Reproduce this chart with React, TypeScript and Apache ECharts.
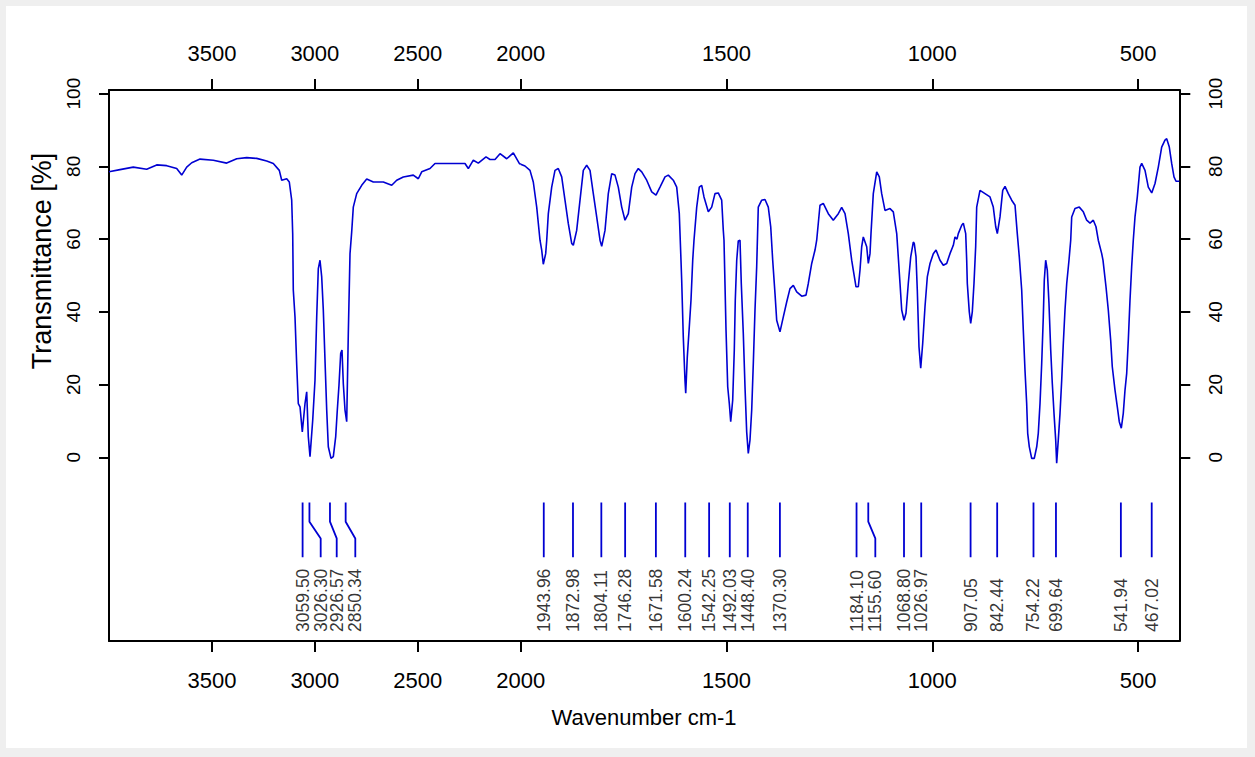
import React, { useEffect, useRef } from "react";
import * as echarts from "echarts";

// Spectrum above 2000 cm-1 : [wavenumber, transmittance %]
const spectrumHigh: [number, number][] = [
  [4000, 78.5], [3946.6, 79.1], [3882, 79.8], [3816.9, 79.2], [3768.3, 80.4], [3719.7, 80.2],
  [3671.1, 79.4], [3646.8, 77.6], [3622.5, 79.8], [3598.2, 81], [3557.9, 82], [3493.3, 81.7],
  [3428.2, 80.9], [3379.6, 82.1], [3331, 82.4], [3282.5, 82.2], [3233.9, 81.5], [3201.8, 80.8],
  [3172.7, 78.9], [3161, 76.2], [3136.7, 76.6], [3124.1, 75.7], [3112.5, 70.7], [3107.6, 61.5],
  [3104.7, 46], [3096.4, 38.6], [3088.1, 25.4], [3080.4, 14.8], [3072.1, 13.9], [3061, 7.0],
  [3047.8, 14.8], [3039.6, 18], [3031.8, 5.7], [3023.5, 0.2], [3010.4, 10.2], [2999.3, 21.2],
  [2991, 38.6], [2983.2, 51.9], [2975, 54.2], [2966.7, 49.6], [2958.9, 40.5], [2950.7, 26.7],
  [2942.4, 13], [2934.6, 2.9], [2921.5, -0.3], [2910.3, 0.2], [2898.7, 5.7], [2890.9, 13],
  [2882.7, 19.9], [2874.4, 28.6], [2868.1, 29.5], [2861.8, 20.3], [2853.5, 13], [2845.3, 9.8],
  [2837.5, 34], [2829.2, 56], [2821, 62], [2813.2, 68.8], [2796.7, 72.5], [2772.4, 74.8],
  [2748.1, 76.5], [2716, 75.7], [2667.5, 75.7], [2626.6, 74.8], [2602.4, 76.2], [2570.3, 77.1],
  [2521.7, 77.6], [2497.4, 76.6], [2480.9, 78.5], [2440.6, 79.4], [2416.3, 80.8], [2343.4, 80.8],
  [2270.6, 80.8], [2254.5, 79.4], [2230.2, 81.7], [2206, 80.9], [2168.5, 82.6], [2149.1, 81.9],
  [2124.8, 81.9], [2100.5, 83.5], [2068, 82.1], [2035.9, 83.7], [2006.8, 80.8], [2000, 80.6],
];

// Spectrum below 2000 cm-1 : [wavenumber, transmittance %]
const spectrumLow: [number, number][] = [
  [2000, 80.6], [1989.6, 80.1], [1977.4, 78.9], [1969.4, 75.7], [1961.1, 68.8], [1953.1, 59.7],
  [1949, 57], [1945.1, 53.1], [1939.3, 56], [1936.8, 59.7], [1932.9, 67], [1924.7, 74.3],
  [1916.7, 78.9], [1908.7, 79.4], [1900.4, 77.1], [1892.4, 70.7], [1884.4, 64.3], [1876.1, 58.8],
  [1872.2, 58.3], [1864, 62.4], [1855.9, 70.7], [1847.9, 78.9], [1839.7, 80.3], [1831.6, 78.9],
  [1823.6, 72.5], [1815.4, 66.1], [1807.3, 59.7], [1803.2, 58], [1795.2, 62.4], [1787.2, 72.5],
  [1778.9, 78], [1770.9, 77.6], [1762.9, 74.3], [1754.6, 68.8], [1746.6, 65.2], [1738.6, 67],
  [1730.3, 74.3], [1722.3, 78], [1714.3, 79.4], [1706, 78.5], [1693.9, 76.2], [1681.7, 73],
  [1671.3, 72.1], [1661.6, 74.3], [1649.4, 77.1], [1641.4, 77.6], [1629.3, 76.2], [1621, 74.3],
  [1614.7, 67], [1610.6, 54.2], [1608.9, 48.7], [1605, 33.1], [1600.9, 21.2], [1599.1, 17.6],
  [1595.3, 27.6], [1590.4, 35.9], [1586.3, 43.2], [1582.1, 54.2], [1579, 59.7], [1572.4, 68.8],
  [1566.1, 74.3], [1560.3, 74.8], [1554.7, 71.6], [1544.2, 67.5], [1536, 68.8], [1528, 72.5],
  [1520, 72.7], [1511.7, 70.7], [1507.8, 62.4], [1506.1, 59.7], [1501.2, 35], [1497.1, 19.4],
  [1493.2, 14.8], [1489.8, 9.8], [1485, 15.7], [1481.1, 29.5], [1478.7, 43.2], [1475.2, 54.2],
  [1471.4, 59.5], [1467.2, 59.7], [1464.1, 47.8], [1459.2, 34], [1455.1, 19.4], [1451, 7],
  [1447.1, 1.1], [1443, 4.7], [1438.8, 13], [1434.9, 25.8], [1430.8, 40.5], [1426.7, 52.4],
  [1422.8, 68.8], [1414.5, 70.7], [1406.5, 70.9], [1398.5, 68.8], [1392.6, 63.4], [1387.8, 54.2],
  [1382.2, 45], [1378.1, 37.7], [1370.1, 34.5], [1362, 38.6], [1353.8, 42.7], [1345.8, 46.4],
  [1337.7, 47.3], [1329.5, 45.5], [1317.3, 44.3], [1306.9, 44.6], [1301.3, 47.8], [1293, 53.3],
  [1285, 57], [1280.9, 59.7], [1276.9, 64.5], [1272.9, 69.3], [1264.9, 69.8], [1252.7, 67],
  [1240.6, 65.2], [1228.4, 67], [1220.2, 68.7], [1212.1, 67], [1204.1, 61.5], [1195.9, 54.2],
  [1192, 51.5], [1185.4, 46.9], [1179.8, 46.9], [1175.7, 51.5], [1171.6, 57.9], [1167.7, 60.6],
  [1159.4, 57.9], [1155.5, 53.3], [1151.4, 56], [1149, 61.5], [1143.4, 72.5], [1135.1, 78.5],
  [1128.8, 77.1], [1123, 72.5], [1115, 67.9], [1102.8, 68.4], [1094.8, 67.5], [1086.5, 61.5],
  [1082.7, 55.1], [1078.5, 47.8], [1074.4, 40.5], [1068.8, 37.7], [1064, 39.6], [1058.4, 47.8],
  [1052.5, 55.1], [1046.2, 59.2], [1043.8, 58.8], [1039.6, 55.1], [1036.5, 46], [1032.4, 30.4],
  [1028.2, 24.5], [1023.4, 31.3], [1017.8, 41.4], [1012.2, 49.6], [1005.6, 53.3], [997.6, 56],
  [991, 57], [981.4, 54.2], [973.3, 52.8], [965.1, 53.3], [957.1, 56], [949, 58.3],
  [944.9, 60.6], [940.1, 60], [936.9, 61.5], [928.6, 63.8], [924.7, 64.4], [918.9, 61.5],
  [916.5, 54.2], [915, 47.8], [910.2, 40], [906.8, 36.8], [902.9, 40], [898.8, 47.8],
  [894.7, 57.9], [892.2, 68.8], [884.2, 73.4], [872, 72.5], [859.9, 71.6], [851.9, 68.8],
  [846, 63.4], [842.1, 61.5], [835.6, 66.1], [829, 73.4], [823.4, 74.5], [815.4, 72.5],
  [807.2, 70.7], [799.1, 69.3], [793.6, 61.5], [788.7, 55.1], [782.9, 46], [779, 35],
  [774.9, 24], [770.8, 14.8], [768.3, 6.6], [764.4, 2.9], [758.6, -0.3], [752.3, -0.3],
  [746.4, 2.9], [742.6, 6.6], [738.4, 14.8], [734.3, 25.8], [730.4, 38.6], [728, 48.7],
  [724.6, 54.2], [720.7, 51.5], [716.6, 42.3], [712.4, 29.5], [708.5, 20.3], [704.4, 12.1],
  [700.3, 4.8], [697.9, -1.6], [694, 4.8], [689.8, 12.1], [685.7, 21.2], [681.8, 31.3],
  [677.7, 40.5], [673.5, 47.8], [668, 54.2], [663.8, 59.7], [661.4, 66.1], [653.4, 68.4],
  [643, 68.8], [633.2, 67.5], [625, 65.2], [616.9, 64.4], [608.9, 65.2], [602.4, 63.4],
  [596.8, 59.7], [588.5, 56], [585.4, 54.2], [578.1, 46.9], [572.5, 40.5], [566.7, 32.2],
  [562.8, 24.9], [556.2, 18.5], [550.6, 13.9], [545.8, 9.8], [540.9, 8], [536.1, 12.1],
  [531.9, 18.5], [527.8, 23.1], [523.9, 32.2], [519.8, 43.2], [515.7, 52.4], [511.8, 59.7],
  [507.6, 66.1], [502, 71.6], [495.5, 79.8], [491.3, 80.8], [483.3, 78.9], [475.3, 74.3],
  [467, 72.7], [459, 75.3], [451, 79.8], [442.8, 85.3], [434.8, 87.2], [430.6, 87.6],
  [424.3, 85.3], [418.5, 80.8], [412.9, 77.1], [408, 75.9], [400, 75.9],
];

// Peak picks (wavenumber) and where their labels sit (wavenumber units)
const peakWavenumbers = [
  3059.5, 3026.3, 2926.57, 2850.34, 1943.96, 1872.98, 1804.11, 1746.28, 1671.58, 1600.24,
  1542.25, 1492.03, 1448.4, 1370.3, 1184.1, 1155.6, 1068.8, 1026.97, 907.05, 842.44,
  754.22, 699.64, 541.94, 467.02,
];
const peakLabelAt = [
  3059.5, 2971.6, 2893.8, 2803.5, 1943.96, 1872.98, 1804.11, 1746.28, 1671.58, 1600.24,
  1542.25, 1492.03, 1448.4, 1370.3, 1184.1, 1138.5, 1068.8, 1026.97, 907.05, 842.44,
  754.22, 699.64, 541.94, 467.02,
];

const xTicksHigh = [3500, 3000, 2500, 2000];
const xTicksLow = [1500, 1000, 500];
const yTicks = [0, 20, 40, 60, 80, 100];
const xTitle = "Wavenumber cm-1";
const yTitle = "Transmittance [%]";

const FONT = '"Liberation Sans", Arial, Helvetica, sans-serif';
const BLUE = "#0000d2";
const TICK = "#000000";

export default function App() {
  const ref = useRef<HTMLDivElement>(null);

  useEffect(() => {
    const chart = echarts.init(ref.current!, null, { renderer: "svg" });

    const yMin = -50.5;
    const yMax = 101;
    const splitW = 2000;

    const xAxis = (
      grid: number,
      pos: "top" | "bottom",
      min: number,
      max: number,
      ticks: number[]
    ) => ({
      type: "value",
      gridIndex: grid,
      position: pos,
      min,
      max,
      inverse: true,
      axisLine: { show: true, onZero: false, lineStyle: { color: "#000", width: 2 } },
      splitLine: { show: false },
      axisTick: {
        show: true,
        inside: false,
        length: 11,
        lineStyle: { color: TICK, width: 2 },
        customValues: ticks,
      },
      axisLabel: {
        show: true,
        customValues: ticks,
        formatter: (v: number) => String(v),
        margin: pos === "top" ? 26 : 28,
        color: "#000",
        fontFamily: FONT,
        fontSize: 22,
      },
    });

    const frameY = (grid: number, min: number, max: number, pos: "left" | "right") => ({
      type: "value", gridIndex: grid, position: pos, min, max,
      axisLine: { show: true, onZero: false, lineStyle: { color: "#000", width: 2 } },
      axisTick: { show: false },
      axisLabel: { show: false },
      splitLine: { show: false },
    });

    const yVisible = (pos: "left" | "right") => ({
      type: "value",
      gridIndex: 2,
      position: pos,
      min: yTicks[0],
      max: yTicks[yTicks.length - 1],
      interval: yTicks[1] - yTicks[0],
      axisLine: { show: false, onZero: false },
      splitLine: { show: false },
      axisTick: {
        show: true,
        inside: false,
        length: pos === "left" ? 10 : 11,
        lineStyle: { color: TICK, width: 2 },
      },
      axisLabel: {
        show: true,
        rotate: 90,
        align: "center",
        verticalAlign: "middle",
        margin: pos === "left" ? 35.6 : 36,
        formatter: (v: number) => String(v),
        color: "#000",
        fontFamily: FONT,
        fontSize: 19,
      },
    });

    const markerSeries = peakWavenumbers.map((w, i) => {
      const high = w > splitW;
      const lx = peakLabelAt[i];
      return {
        type: "line",
        xAxisIndex: high ? 1 : 3,
        yAxisIndex: high ? 0 : 1,
        data: [[w, -12.4], [w, -17.7], [lx, -22.3], [lx, -27.5]],
        showSymbol: false,
        symbol: "none",
        silent: true,
        lineStyle: { color: BLUE, width: 1.8 },
        z: 3,
      };
    });

    const labelSeries = (high: boolean) => ({
      type: "scatter",
      xAxisIndex: high ? 1 : 3,
      yAxisIndex: high ? 0 : 1,
      symbolSize: 0,
      silent: true,
      data: peakWavenumbers
        .map((w, i) => ({ w, i }))
        .filter(({ w }) => (w > splitW) === high)
        .map(({ w, i }) => [peakLabelAt[i], -48.0, w.toFixed(2)]),
      label: {
        show: true,
        position: "inside",
        rotate: 90,
        align: "left",
        verticalAlign: "middle",
        fontFamily: FONT,
        fontSize: 17.5,
        color: "#000",
        formatter: (p: any) => p.value[2],
      },
      z: 4,
    });

    const option: any = {
      animation: false,
      grid: [
        { left: 109, right: 1255 - 520.7, top: 90, bottom: 757 - 641 },
        { left: 520.7, right: 1255 - 1179.3, top: 90, bottom: 757 - 641 },
        { left: 109, right: 1255 - 1179.3, top: 93.6, bottom: 757 - 457.3 },
      ],
      xAxis: [
        xAxis(0, "top", splitW, 4000, xTicksHigh),
        xAxis(0, "bottom", splitW, 4000, xTicksHigh),
        xAxis(1, "top", 400, splitW, xTicksLow),
        xAxis(1, "bottom", 400, splitW, xTicksLow),
        { type: "value", gridIndex: 2, show: false, min: 0, max: 1 },
      ],
      yAxis: [
        frameY(0, yMin, yMax, "left"),
        frameY(1, yMin, yMax, "right"),
        yVisible("left"),
        yVisible("right"),
      ],
      series: [
        {
          type: "line",
          xAxisIndex: 0,
          yAxisIndex: 0,
          data: spectrumHigh,
          showSymbol: false,
          symbol: "none",
          silent: true,
          lineStyle: { color: BLUE, width: 1.6 },
          z: 3,
        },
        {
          type: "line",
          xAxisIndex: 2,
          yAxisIndex: 1,
          data: spectrumLow,
          showSymbol: false,
          symbol: "none",
          silent: true,
          lineStyle: { color: BLUE, width: 1.6 },
          z: 3,
        },
        ...markerSeries,
        labelSeries(true),
        labelSeries(false),
      ],
      graphic: [
        {
          type: "text",
          x: 644,
          y: 717,
          silent: true,
          style: {
            text: xTitle,
            font: `22px ${FONT}`,
            fill: "#000",
            align: "center",
            verticalAlign: "middle",
            textAlign: "center",
            textVerticalAlign: "middle",
          },
        },
        {
          type: "text",
          x: 42,
          y: 261,
          rotation: Math.PI / 2,
          silent: true,
          style: {
            text: yTitle,
            font: `27px ${FONT}`,
            fill: "#000",
            align: "center",
            verticalAlign: "middle",
            textAlign: "center",
            textVerticalAlign: "middle",
          },
        },
      ],
    };

    chart.setOption(option);
    return () => chart.dispose();
  }, []);

  return (
    <div
      style={{
        position: "fixed",
        left: 0,
        top: 0,
        width: 1255,
        height: 757,
        background: "#efefef",
        overflow: "hidden",
      }}
    >
      <div
        style={{
          position: "absolute",
          left: 6,
          top: 6,
          width: 1241,
          height: 742,
          background: "#ffffff",
        }}
      />
      <div
        ref={ref}
        style={{ position: "absolute", left: 0, top: 0, width: 1255, height: 757 }}
      />
    </div>
  );
}
